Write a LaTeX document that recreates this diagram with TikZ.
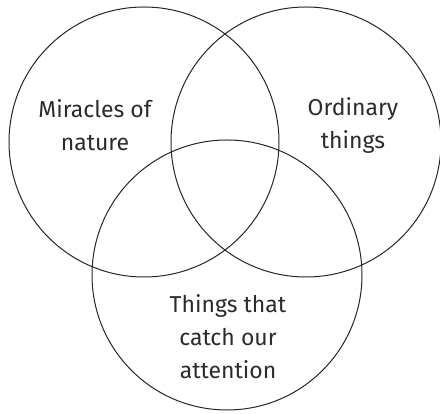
\documentclass[tikz,border=0pt]{standalone}
\usepackage{fontspec}
\setmainfont{Fira Sans}
\usetikzlibrary{positioning}
\definecolor{inkgrey}{HTML}{2B2B2B}
\tikzset{
  ring/.style={draw=black!85, line width=1pt, circle, minimum size=270pt, inner sep=0pt, fill=none},
  label/.style={text=inkgrey, align=center, font=\fontsize{23}{33}\selectfont}
}

\begin{document}
\begin{tikzpicture}[x=1pt, y=1pt]
  \useasboundingbox (0,0) rectangle (440,414);
  \node[ring] (nature) at (144,272) {};
  \node[ring] (ordinary) at (306,272) {};
  \node[ring] (attention) at (227,139) {};

  \node[label] (natureText) at (95,289) {Miracles of\\nature};
  \node[label] (ordinaryText) at (353,289) {Ordinary\\things};
  \node[label] (attentionText) at (228,77) {Things that\\catch our\\attention};
\end{tikzpicture}
\end{document}
